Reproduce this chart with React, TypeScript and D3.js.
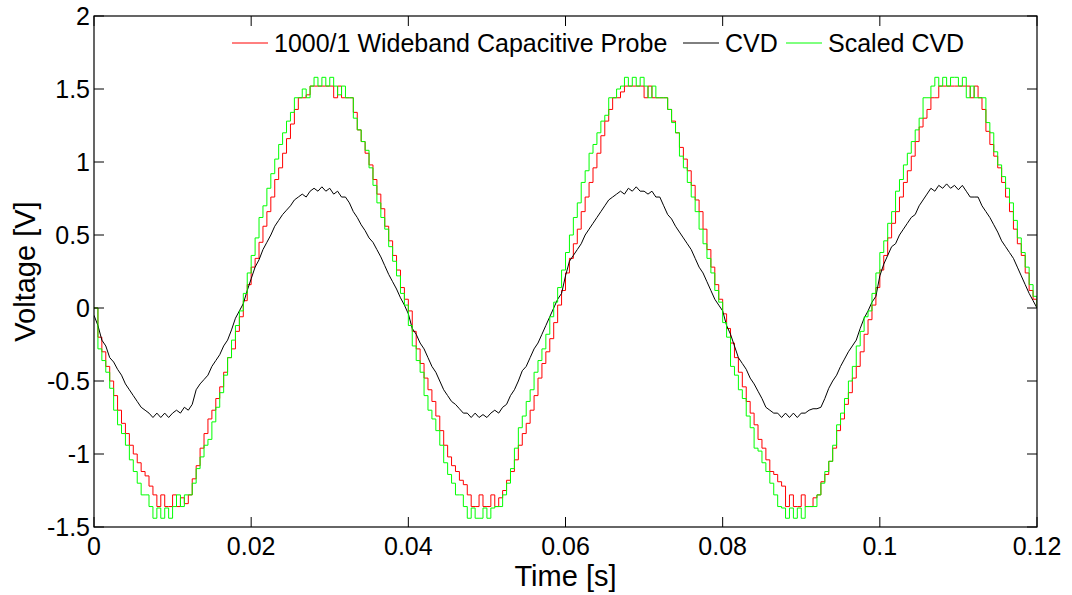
import React from "react";
import * as d3 from "d3";

// sampling step of the recorded traces (s)
const sampleStep = 0.0005;

const xTicks = [0, 0.02, 0.04, 0.06, 0.08, 0.1, 0.12];
const xTickLabels = ["0", "0.02", "0.04", "0.06", "0.08", "0.1", "0.12"];
const yTicks = [-1.5, -1, -0.5, 0, 0.5, 1, 1.5, 2];
const yTickLabels = ["-1.5", "-1", "-0.5", "0", "0.5", "1", "1.5", "2"];

const seriesNames = ["1000/1 Wideband Capacitive Probe", "CVD", "Scaled CVD"];
const seriesColors = ["#ff0000", "#000000", "#00ff00"];

// 1000/1 Wideband Capacitive Probe (V)
const probeValues = [
  0.00, -0.20, -0.30, -0.40, -0.50, -0.60, -0.70, -0.79, -0.86, -0.94,
  -1.00, -1.06, -1.12, -1.15, -1.22, -1.28, -1.36, -1.28, -1.36, -1.36,
  -1.28, -1.36, -1.30, -1.34, -1.28, -1.17, -1.08, -0.96, -0.86, -0.76,
  -0.70, -0.62, -0.54, -0.44, -0.34, -0.28, -0.16, -0.06, 0.05, 0.16,
  0.28, 0.34, 0.45, 0.56, 0.66, 0.76, 0.88, 0.96, 1.06, 1.16,
  1.26, 1.36, 1.44, 1.44, 1.46, 1.52, 1.52, 1.52, 1.52, 1.52,
  1.52, 1.44, 1.52, 1.44, 1.44, 1.44, 1.34, 1.22, 1.14, 1.06,
  0.98, 0.88, 0.78, 0.68, 0.56, 0.46, 0.36, 0.26, 0.14, 0.06,
  -0.02, -0.16, -0.28, -0.38, -0.48, -0.56, -0.64, -0.74, -0.84, -0.94,
  -1.02, -1.08, -1.12, -1.18, -1.21, -1.28, -1.36, -1.36, -1.28, -1.36,
  -1.36, -1.28, -1.36, -1.30, -1.25, -1.18, -1.12, -1.04, -0.94, -0.86,
  -0.79, -0.70, -0.60, -0.48, -0.38, -0.30, -0.21, -0.10, 0.02, 0.12,
  0.24, 0.34, 0.44, 0.54, 0.66, 0.76, 0.86, 0.96, 1.06, 1.18,
  1.28, 1.36, 1.44, 1.44, 1.48, 1.52, 1.52, 1.52, 1.52, 1.52,
  1.44, 1.52, 1.44, 1.44, 1.44, 1.44, 1.36, 1.28, 1.20, 1.10,
  1.02, 0.94, 0.84, 0.74, 0.66, 0.54, 0.40, 0.28, 0.16, 0.06,
  -0.04, -0.14, -0.24, -0.34, -0.44, -0.54, -0.64, -0.72, -0.80, -0.90,
  -0.96, -1.04, -1.12, -1.14, -1.19, -1.22, -1.36, -1.28, -1.36, -1.36,
  -1.28, -1.36, -1.36, -1.30, -1.28, -1.19, -1.14, -1.05, -0.96, -0.84,
  -0.76, -0.66, -0.58, -0.48, -0.40, -0.30, -0.18, -0.08, 0.02, 0.14,
  0.26, 0.36, 0.48, 0.58, 0.66, 0.76, 0.86, 0.94, 1.04, 1.14,
  1.24, 1.30, 1.36, 1.44, 1.44, 1.52, 1.52, 1.52, 1.52, 1.52,
  1.52, 1.52, 1.52, 1.44, 1.52, 1.44, 1.36, 1.21, 1.12, 1.04,
  0.96, 0.86, 0.76, 0.66, 0.54, 0.44, 0.36, 0.24, 0.12, 0.06,
  0.01,
];

// CVD output (V)
const cvdValues = [
  -0.05, -0.12, -0.22, -0.26, -0.34, -0.37, -0.42, -0.46, -0.52, -0.56,
  -0.60, -0.64, -0.68, -0.70, -0.72, -0.75, -0.72, -0.75, -0.72, -0.75,
  -0.72, -0.70, -0.72, -0.68, -0.70, -0.66, -0.56, -0.52, -0.49, -0.46,
  -0.40, -0.36, -0.32, -0.26, -0.22, -0.15, -0.07, -0.02, 0.03, 0.12,
  0.20, 0.28, 0.33, 0.40, 0.45, 0.50, 0.56, 0.60, 0.64, 0.67,
  0.70, 0.74, 0.76, 0.78, 0.76, 0.80, 0.82, 0.80, 0.83, 0.80,
  0.82, 0.78, 0.80, 0.76, 0.76, 0.72, 0.66, 0.62, 0.57, 0.53,
  0.48, 0.45, 0.40, 0.35, 0.29, 0.23, 0.18, 0.13, 0.07, 0.02,
  -0.04, -0.14, -0.18, -0.24, -0.28, -0.34, -0.40, -0.44, -0.50, -0.56,
  -0.60, -0.64, -0.66, -0.69, -0.72, -0.72, -0.75, -0.72, -0.75, -0.73,
  -0.75, -0.72, -0.70, -0.72, -0.68, -0.66, -0.60, -0.56, -0.50, -0.43,
  -0.40, -0.34, -0.28, -0.24, -0.18, -0.12, -0.06, 0.00, 0.06, 0.10,
  0.22, 0.32, 0.36, 0.40, 0.44, 0.50, 0.54, 0.58, 0.62, 0.66,
  0.70, 0.74, 0.76, 0.78, 0.80, 0.78, 0.82, 0.80, 0.83, 0.80,
  0.80, 0.78, 0.80, 0.76, 0.76, 0.70, 0.64, 0.61, 0.56, 0.52,
  0.48, 0.44, 0.40, 0.34, 0.28, 0.24, 0.18, 0.12, 0.06, 0.02,
  -0.02, -0.12, -0.18, -0.26, -0.34, -0.38, -0.42, -0.48, -0.52, -0.57,
  -0.62, -0.68, -0.70, -0.72, -0.72, -0.75, -0.72, -0.75, -0.72, -0.75,
  -0.72, -0.72, -0.70, -0.69, -0.69, -0.68, -0.62, -0.55, -0.50, -0.46,
  -0.40, -0.35, -0.30, -0.26, -0.22, -0.14, -0.07, -0.02, 0.04, 0.08,
  0.22, 0.30, 0.36, 0.42, 0.44, 0.50, 0.54, 0.58, 0.62, 0.64,
  0.70, 0.74, 0.78, 0.82, 0.80, 0.84, 0.82, 0.85, 0.82, 0.84,
  0.81, 0.84, 0.80, 0.76, 0.76, 0.76, 0.70, 0.66, 0.62, 0.57,
  0.52, 0.46, 0.42, 0.38, 0.34, 0.28, 0.22, 0.16, 0.10, 0.05,
  0.00,
];

// Scaled CVD (V)
const scaledValues = [
  0.00, -0.28, -0.36, -0.44, -0.55, -0.70, -0.80, -0.86, -0.94, -1.04,
  -1.12, -1.20, -1.28, -1.28, -1.36, -1.44, -1.37, -1.44, -1.37, -1.44,
  -1.36, -1.28, -1.36, -1.28, -1.28, -1.20, -1.10, -1.02, -0.94, -0.90,
  -0.78, -0.68, -0.58, -0.46, -0.34, -0.22, -0.12, -0.02, 0.10, 0.24,
  0.36, 0.48, 0.62, 0.70, 0.82, 0.92, 1.02, 1.12, 1.20, 1.28,
  1.34, 1.44, 1.44, 1.50, 1.44, 1.52, 1.58, 1.52, 1.58, 1.52,
  1.58, 1.52, 1.46, 1.52, 1.44, 1.44, 1.30, 1.22, 1.14, 1.08,
  0.96, 0.84, 0.72, 0.62, 0.54, 0.42, 0.32, 0.22, 0.10, 0.02,
  -0.12, -0.26, -0.36, -0.44, -0.60, -0.70, -0.76, -0.84, -0.94, -1.06,
  -1.14, -1.20, -1.28, -1.28, -1.36, -1.44, -1.37, -1.44, -1.44, -1.37,
  -1.44, -1.37, -1.36, -1.36, -1.28, -1.20, -1.10, -0.96, -0.82, -0.74,
  -0.64, -0.56, -0.44, -0.36, -0.28, -0.18, -0.06, 0.04, 0.14, 0.26,
  0.38, 0.50, 0.62, 0.72, 0.86, 0.94, 1.06, 1.12, 1.20, 1.28,
  1.32, 1.44, 1.44, 1.50, 1.52, 1.58, 1.52, 1.58, 1.52, 1.58,
  1.52, 1.44, 1.52, 1.44, 1.44, 1.44, 1.36, 1.27, 1.20, 1.04,
  0.96, 0.86, 0.76, 0.66, 0.54, 0.44, 0.34, 0.24, 0.12, 0.04,
  -0.10, -0.20, -0.40, -0.46, -0.56, -0.62, -0.74, -0.82, -0.96, -0.98,
  -1.06, -1.12, -1.20, -1.28, -1.36, -1.37, -1.44, -1.37, -1.44, -1.37,
  -1.44, -1.36, -1.36, -1.36, -1.28, -1.20, -1.12, -1.05, -0.94, -0.80,
  -0.72, -0.62, -0.50, -0.40, -0.26, -0.16, -0.06, -0.02, 0.10, 0.24,
  0.38, 0.46, 0.58, 0.66, 0.80, 0.88, 0.98, 1.06, 1.14, 1.22,
  1.30, 1.44, 1.44, 1.52, 1.58, 1.52, 1.58, 1.52, 1.58, 1.58,
  1.52, 1.58, 1.44, 1.52, 1.44, 1.44, 1.44, 1.27, 1.20, 1.07,
  0.98, 0.90, 0.82, 0.72, 0.60, 0.48, 0.38, 0.28, 0.16, 0.08,
  0.01,
];

const W = 1072;
const H = 595;
const margin = { left: 94, right: 35, top: 16, bottom: 68 };
const FONT = "'Liberation Sans', Arial, Helvetica, sans-serif";

export default function App() {
  const x = d3
    .scaleLinear()
    .domain([0, 0.12])
    .range([margin.left, W - margin.right]);
  const y = d3
    .scaleLinear()
    .domain([-1.5, 2])
    .range([H - margin.bottom, margin.top]);

  const series = [probeValues, cvdValues, scaledValues];
  const curves = [d3.curveStepAfter, d3.curveLinear, d3.curveStepAfter];
  const makeLine = (k: number) =>
    d3
      .line<number>()
      .x((_, i) => x(i * sampleStep))
      .y((d) => y(d))
      .curve(curves[k]);

  const x0 = x(0);
  const x1 = x(0.12);
  const y0 = y(-1.5);
  const y1 = y(2);
  const tickLen = 10;

  const legendX = [232, 683, 786];
  const legendY = 43;

  return (
    <svg
      width={W}
      height={H}
      style={{ position: "absolute", left: 0, top: 0, background: "#fff" }}
      fontFamily={FONT}
    >
      <rect x={0} y={0} width={W} height={H} fill="#fff" />
      <defs>
        <clipPath id="plotClip">
          <rect x={x0} y={y1} width={x1 - x0} height={y0 - y1} />
        </clipPath>
      </defs>
      <g clipPath="url(#plotClip)">
        {series.map((vals, k) => (
          <path
            key={k}
            d={makeLine(k)(vals) || ""}
            fill="none"
            stroke={seriesColors[k]}
            strokeWidth={1}
            strokeLinejoin="miter"
          />
        ))}
      </g>

      {/* axes box */}
      <rect
        x={x0}
        y={y1}
        width={x1 - x0}
        height={y0 - y1}
        fill="none"
        stroke="#000"
        strokeWidth={1.2}
      />
      {/* x ticks */}
      {xTicks.map((t, i) => (
        <g key={"xt" + i}>
          <line x1={x(t)} x2={x(t)} y1={y0} y2={y0 - tickLen} stroke="#000" strokeWidth={1} />
          <line x1={x(t)} x2={x(t)} y1={y1} y2={y1 + tickLen} stroke="#000" strokeWidth={1} />
          <text
            x={x(t)}
            y={y0 + 28}
            fontSize={25}
            textAnchor="middle"
            fill="#000"
          >
            {xTickLabels[i]}
          </text>
        </g>
      ))}
      {/* y ticks */}
      {yTicks.map((v, i) => (
        <g key={"yt" + i}>
          <line x1={x0} x2={x0 + tickLen} y1={y(v)} y2={y(v)} stroke="#000" strokeWidth={1} />
          <line x1={x1} x2={x1 - tickLen} y1={y(v)} y2={y(v)} stroke="#000" strokeWidth={1} />
          <text
            x={x0 - 4}
            y={y(v)}
            dy="0.35em"
            fontSize={25}
            textAnchor="end"
            fill="#000"
          >
            {yTickLabels[i]}
          </text>
        </g>
      ))}

      {/* axis titles */}
      <text
        x={(x0 + x1) / 2}
        y={586}
        fontSize={29}
        textAnchor="middle"
        fill="#000"
      >
        Time [s]
      </text>
      <text
        transform={`translate(35, ${(y0 + y1) / 2}) rotate(-90)`}
        fontSize={29}
        textAnchor="middle"
        fill="#000"
      >
        Voltage [V]
      </text>

      {/* legend */}
      {seriesNames.map((name, k) => (
        <g key={"lg" + k}>
          <line
            x1={legendX[k]}
            x2={legendX[k] + 36}
            y1={legendY}
            y2={legendY}
            stroke={seriesColors[k]}
            strokeWidth={1}
          />
          <text
            x={legendX[k] + 42}
            y={legendY + 9}
            fontSize={25}
            fill="#000"
          >
            {name}
          </text>
        </g>
      ))}
    </svg>
  );
}
